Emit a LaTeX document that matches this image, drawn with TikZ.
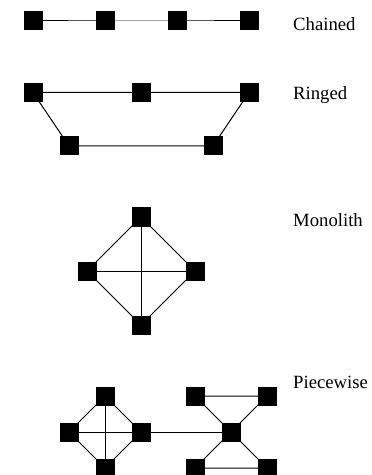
\documentclass[tikz,border=0pt]{standalone}
\usepackage{fontspec}
\setmainfont{Liberation Serif}
\begin{document}
\begin{tikzpicture}[x=1bp,y=-1bp,
  sq/.style={draw=none,fill=black,minimum size=19bp,inner sep=0pt,outer sep=0pt},
  lbl/.style={anchor=base west,inner sep=0pt,font=\fontsize{18.7bp}{22bp}\selectfont},
  edge/.style={line width=1bp}]
\useasboundingbox (0,0) rectangle (371,475);
\clip (0,0) rectangle (371,475);
% Chained
\coordinate (c1) at (33,21);
\coordinate (c2) at (105,21);
\coordinate (c3) at (177,21);
\coordinate (c4) at (249,21);
\draw[edge] (c1) -- (c2) -- (c3) -- (c4);
\foreach \n in {c1,c2,c3,c4} \node[sq] at (\n) {};
\node[lbl] (tc) at (293,31) {Chained};
% Ringed
\coordinate (r1) at (33,92.5);
\coordinate (r2) at (141,92.5);
\coordinate (r3) at (249,92.5);
\coordinate (r4) at (213,146);
\coordinate (r5) at (69,146);
\draw[edge] (r1) -- (r2) -- (r3) -- (r4) -- (r5) -- cycle;
\foreach \n in {r1,r2,r3,r4,r5} \node[sq] at (\n) {};
\node[lbl] (tr) at (293,100) {Ringed};
% Monolith
\coordinate (mt) at (141,217);
\coordinate (ml) at (87,271);
\coordinate (mr) at (195,271);
\coordinate (mb) at (141,325);
\draw[edge] (mt) -- (mr) -- (mb) -- (ml) -- cycle;
\draw[edge] (mt) -- (mb);
\draw[edge] (ml) -- (mr);
\foreach \n in {mt,ml,mr,mb} \node[sq] at (\n) {};
\node[lbl] (tm) at (293,226.5) {Monolith};
% Piecewise
\coordinate (pt) at (105,396);
\coordinate (pl) at (69,432);
\coordinate (pr) at (141,432);
\coordinate (pb) at (105,468);
\coordinate (qa) at (195,396);
\coordinate (qb) at (267,396);
\coordinate (qc) at (231,432);
\coordinate (qd) at (195,468);
\coordinate (qe) at (267,468);
\draw[edge] (pt) -- (pr) -- (pb) -- (pl) -- cycle;
\draw[edge] (pt) -- (pb);
\draw[edge] (pl) -- (pr);
\draw[edge] (pr) -- (qc);
\draw[edge] (qa) -- (qb) -- (qc) -- cycle;
\draw[edge] (qd) -- (qe) -- (qc) -- cycle;
\foreach \n in {pt,pl,pr,pb,qa,qb,qc,qd,qe} \node[sq] at (\n) {};
\node[lbl] (tp) at (293,388.3) {Piecewise};
\end{tikzpicture}
\end{document}
